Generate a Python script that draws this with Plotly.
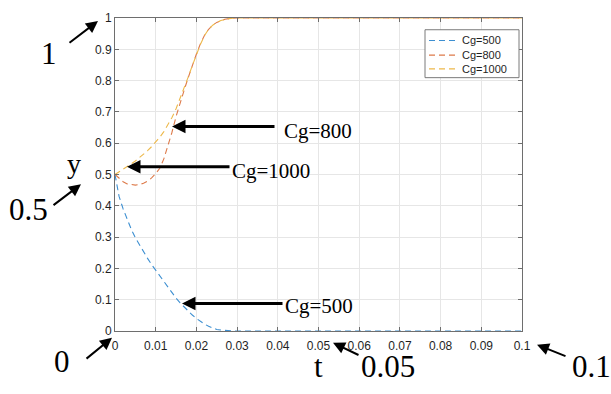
import plotly.graph_objects as go

# ---- data ----
t = [0, 0.001, 0.002, 0.003, 0.004, 0.005, 0.006, 0.007, 0.008, 0.009,
     0.010, 0.011, 0.012, 0.013, 0.014, 0.015, 0.016, 0.017, 0.018, 0.019,
     0.020, 0.021, 0.022, 0.023, 0.024, 0.025, 0.026, 0.027, 0.028, 0.029,
     0.030, 0.035, 0.04, 0.05, 0.06, 0.07, 0.08, 0.09, 0.1]

y_cg500 = [0.5, 0.43, 0.39, 0.355, 0.325, 0.298, 0.275, 0.253, 0.232, 0.212,
           0.194, 0.176, 0.158, 0.140, 0.122, 0.105, 0.090, 0.076, 0.063, 0.051,
           0.040, 0.030, 0.022, 0.015, 0.009, 0.005, 0.003, 0.0015, 0.0006, 0.0002,
           0.0, 0.0, 0.0, 0.0, 0.0, 0.0, 0.0, 0.0, 0.0]

y_cg800 = [0.5, 0.487, 0.477, 0.470, 0.467, 0.466, 0.468, 0.472, 0.479, 0.489,
           0.503, 0.520, 0.550, 0.590, 0.635, 0.685, 0.730, 0.770, 0.810, 0.850,
           0.885, 0.918, 0.945, 0.964, 0.977, 0.986, 0.992, 0.996, 0.998, 0.999,
           1.0, 1.0, 1.0, 1.0, 1.0, 1.0, 1.0, 1.0, 1.0]

y_cg1000 = [0.5, 0.508, 0.516, 0.525, 0.534, 0.543, 0.553, 0.564, 0.576, 0.589,
            0.603, 0.619, 0.637, 0.658, 0.682, 0.710, 0.742, 0.776, 0.812, 0.848,
            0.883, 0.916, 0.944, 0.964, 0.977, 0.986, 0.992, 0.996, 0.998, 0.999,
            1.0, 1.0, 1.0, 1.0, 1.0, 1.0, 1.0, 1.0, 1.0]

series_names = ["Cg=500", "Cg=800", "Cg=1000"]
series_values = [y_cg500, y_cg800, y_cg1000]
series_colors = ["#3d8fd1", "#dd7a4a", "#edb84a"]

x_ticks = [0, 0.01, 0.02, 0.03, 0.04, 0.05, 0.06, 0.07, 0.08, 0.09, 0.1]
x_ticklabels = ["0", "0.01", "0.02", "0.03", "0.04", "0.05", "0.06", "0.07", "0.08", "0.09", "0.1"]
y_ticks = [0, 0.1, 0.2, 0.3, 0.4, 0.5, 0.6, 0.7, 0.8, 0.9, 1]
y_ticklabels = ["0", "0.1", "0.2", "0.3", "0.4", "0.5", "0.6", "0.7", "0.8", "0.9", "1"]

# ---- figure ----
W, H = 611, 394
ML, MR, MT, MB = 115, 89, 11, 63
PW, PH = W - ML - MR, H - MT - MB
DASH = "6px,4px"

fig = go.Figure()
for name, vals, col in zip(series_names, series_values, series_colors):
    fig.add_trace(go.Scatter(x=t, y=vals, mode="lines", name=name, showlegend=False,
                             line=dict(color=col, width=1.1, dash=DASH)))

tickfont = dict(family="Liberation Sans, Arial", size=12, color="#1f1f1f")
axis_common = dict(showline=True, mirror="ticks", linecolor="#6e6e6e", linewidth=1,
                   ticks="inside", ticklen=4, tickcolor="#6e6e6e",
                   showgrid=True, gridcolor="#e6e6e6", gridwidth=1, zeroline=False,
                   tickfont=tickfont)

fig.update_xaxes(range=[0, 0.1], tickvals=x_ticks, ticktext=x_ticklabels,
                 ticklabelstandoff=4, **axis_common)
fig.update_yaxes(range=[0, 1], tickvals=y_ticks, ticktext=y_ticklabels, **axis_common)


def px(xp):
    return (xp - ML) / PW


def py(yp):
    return (MT + PH - yp) / PH


serif = "Liberation Serif, Times New Roman, serif"
annotations = []
shapes = []

# big serif labels
big_labels = [("1", 49, 47, 31), ("0.5", 28, 207, 31), ("0", 62, 362, 31),
              ("t", 318, 367, 31), ("0.05", 388, 367, 31), ("0.1", 591, 367, 31),
              ("y", 74, 160, 28),
              ("Cg=800", 318, 127, 21), ("Cg=1000", 271, 167, 21), ("Cg=500", 319, 305, 21)]
for txt, xp, yp, fs in big_labels:
    annotations.append(dict(text=txt, x=px(xp), y=py(yp), xref="paper", yref="paper",
                            showarrow=False, xanchor="center", yanchor="middle",
                            font=dict(family=serif, size=fs, color="#000000")))

# arrows: (tip_x, tip_y, tail_x, tail_y, width)
arrows = [(98, 14, 68, 37, 2), (81, 181, 52, 203, 2), (112, 338, 85, 360, 2),
          (333, 343, 360, 356, 2), (537, 345, 567, 357, 2),
          (172, 122, 276, 122, 3), (127, 163, 231, 163, 3), (182, 303, 284, 303, 3)]
for tx, ty, sx, sy, w in arrows:
    annotations.append(dict(text="", x=px(tx), y=py(ty), xref="paper", yref="paper",
                            showarrow=True, ax=sx - tx, ay=sy - ty, axref="pixel", ayref="pixel",
                            arrowhead=2, arrowsize=0.9 if w == 3 else 1.2, arrowwidth=w,
                            arrowcolor="#000000", standoff=0, startstandoff=0))

# legend box (MATLAB style)
shapes.append(dict(type="rect", xref="paper", yref="paper",
                   x0=px(425), x1=px(519), y0=py(72), y1=py(23),
                   line=dict(color="#7a7a7a", width=1), fillcolor="white", layer="above"))
legend_rows = [34, 49, 63]
for name, col, yrow in zip(series_names, series_colors, legend_rows):
    shapes.append(dict(type="line", xref="paper", yref="paper",
                       x0=px(429), x1=px(458), y0=py(yrow), y1=py(yrow),
                       line=dict(color=col, width=1.1, dash=DASH), layer="above"))
    annotations.append(dict(text=name, x=px(460), y=py(yrow), xref="paper", yref="paper",
                            showarrow=False, xanchor="left", yanchor="middle",
                            font=dict(family="Liberation Sans, Arial", size=11, color="#1f1f1f")))

fig.update_layout(
    width=W, height=H,
    margin=dict(l=ML, r=MR, t=MT, b=MB, pad=0),
    paper_bgcolor="white", plot_bgcolor="white",
    annotations=annotations, shapes=shapes,
    showlegend=False,
)

fig.write_html("out.html")
